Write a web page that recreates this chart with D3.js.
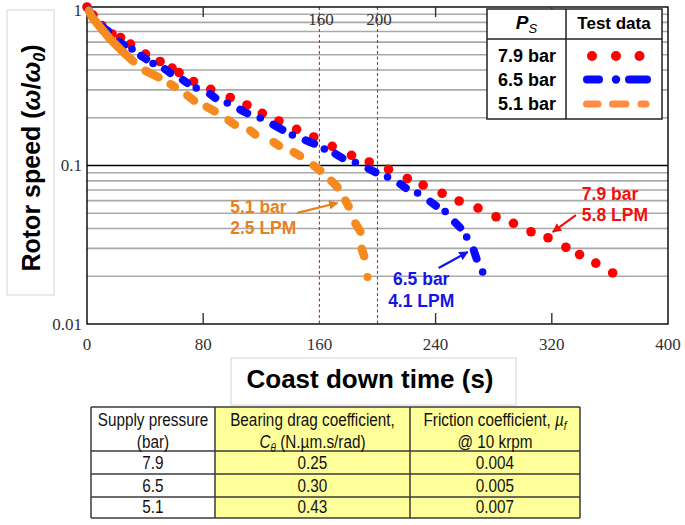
<!DOCTYPE html>
<html><head><meta charset="utf-8">
<script src="https://cdn.jsdelivr.net/npm/d3@7"></script>
<style>body{margin:0;background:#fff} svg{display:block}</style>
</head><body>
<svg id="c" width="685" height="525"></svg>
<script>
// ---------------- DATA ----------------
const xTicks = [0, 80, 160, 240, 320, 400];
const yTicks = [1, 0.1, 0.01];
const yTickLabels = ["1", "0.1", "0.01"];
const refLines = [160, 200];
const legendNames = ["7.9 bar", "6.5 bar", "5.1 bar"];

// 7.9 bar: discrete test points [time s, w/w0]
const red79 = [[0,1.0],[4.1,0.890],[10.3,0.764],[17.2,0.676],[23.1,0.642],[30.0,0.584],[40.3,0.505],[50.3,0.453],
  [58.6,0.412],[63.4,0.386],[73.4,0.339],[85.2,0.3026],[98.6,0.2686],[110.1,0.2408],[120.7,0.2135],[132.1,0.1909],
  [144.3,0.1692],[156.1,0.1513],[168.8,0.1322],[182.1,0.1160],[194.3,0.1052],[207.6,0.0946],[220.5,0.0828],
  [231.4,0.0753],[244.5,0.0668],[256.2,0.0597],[269.2,0.0539],[281.6,0.0475],[293.6,0.0432],[305.7,0.0382],
  [317.4,0.0350],[329.7,0.0305],[339.1,0.0274],[350.3,0.0242],[361.9,0.0210]];

// 6.5 bar: dense point clusters (dashes) and single points
const blue65Dashes = [
  [[0,1.0],[4.83,0.840]],[[7.59,0.781],[16.55,0.685]],[[20.0,0.619],[27.6,0.559]],[[35.2,0.505],[42.8,0.456]],
  [[51.7,0.418],[59.3,0.372]],[[64.1,0.3565],[71.0,0.322]],[[82.8,0.291],[90.3,0.259]],[[103.4,0.2306],[112.4,0.2083]],
  [[126.2,0.1855],[136.6,0.1639]],[[148.3,0.147],[158.6,0.1347]],[[169.0,0.1217],[177.9,0.1083]],
  [[191.7,0.0978],[200.7,0.0884]],[[213.8,0.0787],[221.4,0.070]],[[234.5,0.061],[242.1,0.054]],
  [[251.7,0.0453],[258.6,0.0392]],[[265.5,0.0306],[269.0,0.0246]]];
const blue65Dots = [[31.0,0.543],[45.5,0.440],[75.2,0.308],[96.6,0.248],[119.3,0.1994],[141.4,0.1557],[163.4,0.127],
  [184.8,0.1044],[206.9,0.0846],[227.6,0.0671],[246.6,0.0513],[261.4,0.0354],[272.4,0.0213]];

// 5.1 bar: dense point clusters (dashes) and single points
const orange51Dashes = [
  [[0,1.0],[3.4,0.865],[9.0,0.748],[15.9,0.629],[22.8,0.543],[33.8,0.437]],
  [[37.9,0.406],[51.7,0.351]],[[55.2,0.336],[62.8,0.304]],[[66.9,0.287],[75.9,0.248]],[[80.0,0.241],[90.3,0.214]],
  [[95.2,0.1995],[104.1,0.175]],[[110.3,0.1725],[117.9,0.151]],[[126.2,0.145],[134.5,0.129]],
  [[140.0,0.125],[149.0,0.1115]],[[153.8,0.1037],[162.8,0.0897]],[[166.2,0.0834],[174.5,0.070]],
  [[176.6,0.0633],[181.4,0.0524]],[[183.4,0.0453],[189.7,0.0364]],[[188.3,0.0315],[191.7,0.0253]]];
const orange51Dots = [[193.1,0.0198]];

// table
const tableHeader = [["Supply pressure","(bar)"],["Bearing drag coefficient,","C|θ| (N.µm.s/rad)"],["Friction coefficient, µ|f|","@ 10 krpm"]];
const tablePressure = ["7.9","6.5","5.1"];
const tableDrag = ["0.25","0.30","0.43"];
const tableFriction = ["0.004","0.005","0.007"];

// annotations (text lines + arrow, in data units)
const annotations = [
  {lines:["5.1 bar","2.5 LPM"], color:"#e8801e", at:[98.6,0.0502], anchor:"start", from:[144.8,0.0502], to:[172.4,0.058]},
  {lines:["7.9 bar","5.8 LPM"], color:"#f01010", at:[340.7,0.0606], anchor:"start", from:[336.6,0.0487], to:[320.7,0.0381]},
  {lines:["6.5 bar","4.1 LPM"], color:"#1414e6", at:[230.1,0.01762], anchor:"middle", from:[242.1,0.02256], to:[262.1,0.02846]}
];

// ---------------- DRAW ----------------
const svg = d3.select("#c");
const M = {l:87, r:668, t:7, b:324};
const x = d3.scaleLinear().domain([0,400]).range([M.l, M.r]);
const y = d3.scaleLog().domain([0.01,1]).range([M.b, M.t]);
const RED="#ff0000", BLUE="#0a0aff", ORANGE="#f68a1e", ORANGE_L="#ff8b45";
const serif = "'Liberation Serif','Times New Roman',serif";
const sans = "'Liberation Sans',Arial,sans-serif";

// y-axis title box
svg.append("rect").attr("x",7).attr("y",10).attr("width",47).attr("height",285)
  .attr("fill","#fff").attr("stroke","#d6d6d6").attr("stroke-width",1);
const yt = svg.append("text").attr("transform","translate(40,158) rotate(-90)")
  .attr("text-anchor","middle").attr("font-family",sans).attr("font-weight","bold").attr("font-size",25).attr("fill","#000");
yt.append("tspan").text("Rotor speed (");
yt.append("tspan").attr("font-style","italic").text("ω");
yt.append("tspan").text("/");
yt.append("tspan").attr("font-style","italic").text("ω");
yt.append("tspan").attr("font-style","italic").attr("font-size",16).attr("dy",5).text("0");
yt.append("tspan").attr("dy",-5).text(")");

// plot background
svg.append("rect").attr("x",M.l).attr("y",M.t).attr("width",M.r-M.l).attr("height",M.b-M.t).attr("fill","#fff");

// gridlines (minor)
const minor = [];
[0.01,0.1].forEach(d => { for (let k=2;k<=9;k++) minor.push(k*d); });
svg.append("g").selectAll("line").data(minor).join("line")
  .attr("x1",M.l).attr("x2",M.r).attr("y1",d=>y(d)).attr("y2",d=>y(d))
  .attr("stroke","#a9a9a9").attr("stroke-width",1.6);
// decade line
svg.append("line").attr("x1",M.l).attr("x2",M.r).attr("y1",y(0.1)).attr("y2",y(0.1))
  .attr("stroke","#000").attr("stroke-width",1.3);

// reference lines
svg.append("g").selectAll("line").data(refLines).join("line")
  .attr("x1",d=>x(d)).attr("x2",d=>x(d)).attr("y1",M.t).attr("y2",M.b)
  .attr("stroke","#c0282d").attr("stroke-width",1.1).attr("stroke-dasharray","3,2.5");
svg.append("g").selectAll("text").data(refLines).join("text")
  .attr("x",d=>x(d)+1.5).attr("y",25).attr("text-anchor","middle")
  .attr("font-family",serif).attr("font-size",17).attr("fill","#333").text(d=>d);

// frame
svg.append("rect").attr("x",M.l).attr("y",M.t).attr("width",M.r-M.l).attr("height",M.b-M.t)
  .attr("fill","none").attr("stroke","#000").attr("stroke-width",1.4);

// ticks (inward) top & bottom, skipping ends and ref lines
const tickVals = xTicks.filter(v => v>0 && v<400 && !refLines.includes(v));
svg.append("g").selectAll("line").data(tickVals).join("line")
  .attr("x1",d=>x(d)).attr("x2",d=>x(d)).attr("y1",M.b).attr("y2",M.b-11).attr("stroke","#333").attr("stroke-width",1.4);
svg.append("g").selectAll("line").data(tickVals).join("line")
  .attr("x1",d=>x(d)).attr("x2",d=>x(d)).attr("y1",M.t).attr("y2",M.t+10).attr("stroke","#333").attr("stroke-width",1.4);

// tick labels
svg.append("g").selectAll("text").data(xTicks).join("text")
  .attr("x",d=>x(d)).attr("y",350).attr("text-anchor","middle")
  .attr("font-family",serif).attr("font-size",17).attr("fill","#333").text(d=>d);
svg.append("g").selectAll("text").data(yTicks).join("text")
  .attr("x",M.l-5).attr("y",d=>Math.max(y(d), 10)).attr("dy","0.33em").attr("text-anchor","end")
  .attr("font-family",serif).attr("font-size",17).attr("fill","#333").text((d,i)=>yTickLabels[i]);

// helper: shrink cluster ends so round caps stay inside the visual extent
function clusterPath(pts, inset){
  const p = pts.map(([t,w]) => [x(t), y(w)]);
  const mv = (a,b,d) => { const L=Math.hypot(b[0]-a[0],b[1]-a[1]); if(L<1e-6) return a.slice();
    const k=Math.min(d, L/2-0.5)/L; return [a[0]+(b[0]-a[0])*Math.max(k,0), a[1]+(b[1]-a[1])*Math.max(k,0)]; };
  const n=p.length;
  const q=p.map(v=>v.slice());
  q[0]=mv(p[0],p[1],inset);
  q[n-1]=mv(p[n-1],p[n-2],inset);
  return d3.line()(q);
}

// 7.9 bar dots
svg.append("g").selectAll("circle").data(red79).join("circle")
  .attr("cx",d=>x(d[0])).attr("cy",d=>y(d[1])).attr("r",4.8).attr("fill",RED);

// 6.5 bar
const gb = svg.append("g");
gb.selectAll("path").data(blue65Dashes).join("path")
  .attr("d",d=>clusterPath(d,3.5)).attr("fill","none").attr("stroke",BLUE)
  .attr("stroke-width",8).attr("stroke-linecap","round").attr("stroke-linejoin","round");
gb.selectAll("circle").data(blue65Dots).join("circle")
  .attr("cx",d=>x(d[0])).attr("cy",d=>y(d[1])).attr("r",3.8).attr("fill",BLUE);

// 5.1 bar
const go = svg.append("g");
go.selectAll("path").data(orange51Dashes).join("path")
  .attr("d",d=>clusterPath(d,4)).attr("fill","none").attr("stroke",ORANGE)
  .attr("stroke-width",8.5).attr("stroke-linecap","round").attr("stroke-linejoin","round");
go.selectAll("circle").data(orange51Dots).join("circle")
  .attr("cx",d=>x(d[0])).attr("cy",d=>y(d[1])).attr("r",4).attr("fill",ORANGE);

// annotations
const defs = svg.append("defs");
annotations.forEach((a,i) => {
  defs.append("marker").attr("id","ah"+i).attr("viewBox","0 0 10 10").attr("refX",9).attr("refY",5)
    .attr("markerWidth",4.2).attr("markerHeight",4.2).attr("orient","auto")
    .append("path").attr("d","M0,0L10,5L0,10z").attr("fill",a.color);
  svg.append("line").attr("x1",x(a.from[0])).attr("y1",y(a.from[1])).attr("x2",x(a.to[0])).attr("y2",y(a.to[1]))
    .attr("stroke",a.color).attr("stroke-width",2.2).attr("marker-end","url(#ah"+i+")");
  const t = svg.append("text").attr("font-family",sans).attr("font-weight","bold").attr("font-size",17.5)
    .attr("fill",a.color).attr("text-anchor",a.anchor);
  a.lines.forEach((ln,j) => t.append("tspan").attr("x",x(a.at[0])).attr("y",y(a.at[1])+j*21.5).text(ln));
});

// legend
const L = {x:487, y:9, w:175, h:110, hy:39, cx:566};
svg.append("rect").attr("x",L.x).attr("y",L.y).attr("width",L.w).attr("height",L.h)
  .attr("fill","#fff").attr("stroke","#222").attr("stroke-width",1.5);
svg.append("line").attr("x1",L.x).attr("x2",L.x+L.w).attr("y1",L.hy).attr("y2",L.hy).attr("stroke","#222").attr("stroke-width",1.5);
svg.append("line").attr("x1",L.cx).attr("x2",L.cx).attr("y1",L.y).attr("y2",L.y+L.h).attr("stroke","#222").attr("stroke-width",1.5);
const ph = svg.append("text").attr("x",(L.x+L.cx)/2).attr("y",29).attr("text-anchor","middle")
  .attr("font-family",sans).attr("font-weight","bold").attr("font-size",19).attr("font-style","italic");
ph.append("tspan").text("P");
ph.append("tspan").attr("font-size",13).attr("dy",4).attr("font-weight","normal").text("S");
svg.append("text").attr("x",(L.cx+L.x+L.w)/2).attr("y",29).attr("text-anchor","middle")
  .attr("font-family",sans).attr("font-weight","bold").attr("font-size",17).text("Test data");
const rowY = [56, 79.5, 104];
svg.append("g").selectAll("text").data(legendNames).join("text")
  .attr("x",(L.x+L.cx)/2+0.5).attr("y",(d,i)=>rowY[i]+6.2).attr("text-anchor","middle")
  .attr("font-family",sans).attr("font-weight","bold").attr("font-size",18).text(d=>d);
// legend samples
[592,616,639.5].forEach(cx => svg.append("circle").attr("cx",cx).attr("cy",rowY[0]).attr("r",5).attr("fill",RED));
[[587,599],[629,647]].forEach(s => svg.append("line").attr("x1",s[0]).attr("x2",s[1]).attr("y1",rowY[1]).attr("y2",rowY[1])
  .attr("stroke",BLUE).attr("stroke-width",8).attr("stroke-linecap","round"));
svg.append("circle").attr("cx",616).attr("cy",rowY[1]).attr("r",4.2).attr("fill",BLUE);
[[586.5,598],[612.5,626],[641,646]].forEach(s => svg.append("line").attr("x1",s[0]).attr("x2",s[1]).attr("y1",rowY[2]).attr("y2",rowY[2])
  .attr("stroke",ORANGE_L).attr("stroke-width",7).attr("stroke-linecap","round"));

// x-axis title box
svg.append("rect").attr("x",231).attr("y",358).attr("width",285).attr("height",47)
  .attr("fill","#fff").attr("stroke","#d6d6d6").attr("stroke-width",1);
svg.append("text").attr("x",370).attr("y",388).attr("text-anchor","middle")
  .attr("font-family",sans).attr("font-weight","bold").attr("font-size",26).text("Coast down time (s)");

// table
const colX = [91, 215, 410, 580];
const rowYs = [407, 451, 474, 497, 518];
const fills = ["#ffffff","#ffff99","#ffff99"];
const tg = svg.append("g");
for (let c=0;c<3;c++) tg.append("rect").attr("x",colX[c]).attr("y",rowYs[0]).attr("width",colX[c+1]-colX[c])
  .attr("height",rowYs[4]-rowYs[0]).attr("fill",fills[c]);
rowYs.forEach(v => tg.append("line").attr("x1",colX[0]).attr("x2",colX[3]).attr("y1",v).attr("y2",v).attr("stroke","#3a3a3a").attr("stroke-width",1.5));
colX.forEach(v => tg.append("line").attr("x1",v).attr("x2",v).attr("y1",rowYs[0]).attr("y2",rowYs[4]).attr("stroke","#3a3a3a").attr("stroke-width",1.5));
const centers = colX.slice(0,3).map((v,i)=>(v+colX[i+1])/2);
function headerText(cx, by, str){
  const t = tg.append("text").attr("transform",`translate(${cx},${by}) scale(0.9,1.1)`).attr("text-anchor","middle")
    .attr("font-family",sans).attr("font-size",17).attr("fill","#111");
  const parts = str.split("|");
  if (parts.length === 1) { t.text(str); return; }
  const base = parts[0].slice(0,-1), sym = parts[0].slice(-1);
  if (base) t.append("tspan").text(base);
  t.append("tspan").attr("font-style","italic").text(sym);
  t.append("tspan").attr("font-style","italic").attr("font-size",11).attr("dy",4).text(parts[1]);
  if (parts[2]) t.append("tspan").attr("dy",-4).text(parts[2]);
}
tableHeader.forEach((h,c) => { headerText(centers[c],426,h[0]); headerText(centers[c],447.5,h[1]); });
[tablePressure, tableDrag, tableFriction].forEach((col,c) => col.forEach((v,r) =>
  headerText(centers[c], rowYs[r+2]-5, v)));
</script>
</body></html>
